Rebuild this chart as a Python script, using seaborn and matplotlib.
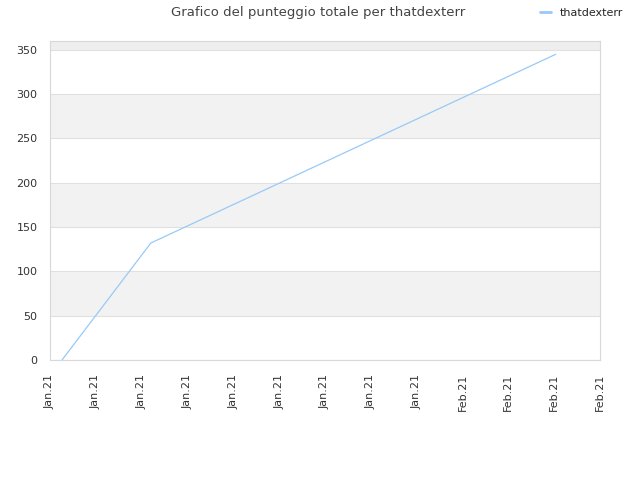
import pandas as pd
import matplotlib
matplotlib.use("Agg")
import matplotlib.pyplot as plt
import matplotlib.dates as mdates
import seaborn as sns

player = "thatdexterr"
dates = ["2021-01-06 19:00", "2021-01-12 14:30", "2021-02-08 02:30"]
scores = [0, 132, 345]
tick_dates = pd.date_range("2021-01-06", periods=13, freq="3D")

df = pd.DataFrame({"data": pd.to_datetime(dates), "punteggio": scores})

sns.set_style("white")
plt.rcParams["font.family"] = ["DejaVu Sans"]

fig = plt.figure(figsize=(6.4, 4.8), dpi=100)
ax = fig.add_axes([0.078, 0.25, 0.8595, 0.6646])

# banded background
for lo in range(0, 360, 50):
    if (lo // 50) % 2 == 1:
        ax.axhspan(lo, min(lo + 50, 360), color="#f2f2f2", zorder=0, lw=0)
ax.axhspan(350, 360, color="#eeeeee", zorder=0, lw=0)

sns.lineplot(data=df, x="data", y="punteggio", ax=ax, color="#99c9f7",
             linewidth=0.9, label=player, legend=False)

ax.set_ylim(0, 360)
ax.set_xlim(tick_dates[0], tick_dates[-1])
ax.set_yticks(range(0, 351, 50))
ax.set_xticks(tick_dates)
ax.xaxis.set_major_formatter(mdates.DateFormatter("%b.%y"))
ax.tick_params(axis="x", rotation=90, labelsize=8, colors="#333333", length=0, pad=10)
ax.tick_params(axis="y", labelsize=8, colors="#333333", length=0, pad=9)
ax.yaxis.grid(True, color="#e0e0e0", linewidth=0.8)
ax.set_axisbelow(True)
ax.set_xlabel("")
ax.set_ylabel("")
for s in ax.spines.values():
    s.set_color("#d8d8d8")
    s.set_linewidth(0.8)

fig.text(0.497, 0.973, "Grafico del punteggio totale per " + player,
         ha="center", va="center", fontsize=9.5, color="#444444")
handles, labels = ax.get_legend_handles_labels()
fig.legend(handles, labels, loc="center right", bbox_to_anchor=(0.989, 0.973),
           frameon=False, fontsize=8, handlelength=1.0, handletextpad=0.8)
for h in fig.legends[0].get_lines():
    h.set_linewidth(2)

fig.savefig("out.png", dpi=100)
